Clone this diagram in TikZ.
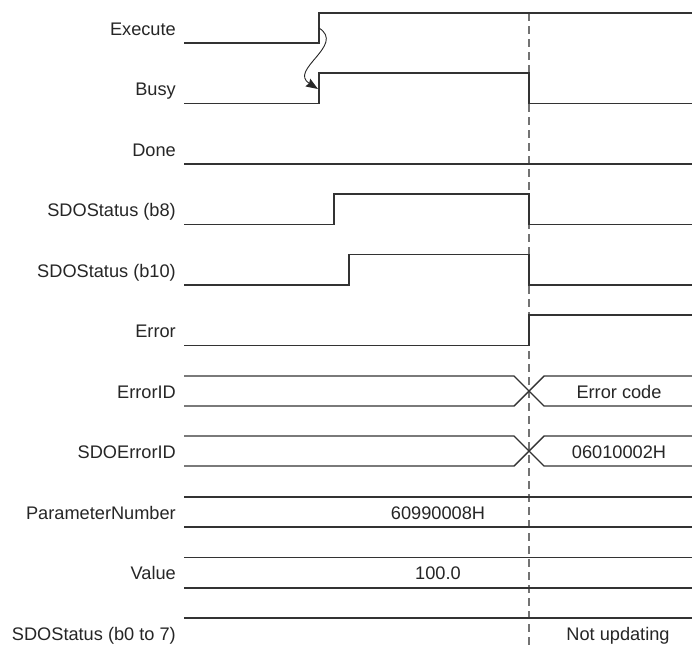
\documentclass[tikz,border=0pt]{standalone}
\usepackage{fontspec}
\setmainfont{Liberation Sans}
\usetikzlibrary{arrows.meta}
\begin{document}
\begin{tikzpicture}[x=1pt,y=-1pt,
  sig/.style={line width=1.4pt, draw=black!80, line join=miter},
  lbl/.style={anchor=base east, inner sep=0pt, font=\fontsize{18.2}{20}\selectfont, text=black!85},
  val/.style={anchor=base, inner sep=0pt, font=\fontsize{18.2}{20}\selectfont, text=black!85},
  guide/.style={draw=black!55, line width=1.1pt, dash pattern=on 8pt off 5pt},
  cause/.style={line width=0.9pt, draw=black!85, -{Stealth[length=12pt,width=9pt,inset=1.5pt]}}]
\useasboundingbox (0,0) rectangle (692,646);
\fill[white] (0,0) rectangle (692,646);

% dashed time marker
\coordinate (gtop) at (529,13);
\coordinate (gbot) at (529,646);
\draw[guide] (gtop) -- (gbot);

% labels
\node[lbl] (lExecute) at (176,35) {Execute};
\node[lbl] (lBusy) at (176,95.5) {Busy};
\node[lbl] (lDone) at (176,156) {Done};
\node[lbl] (lB8) at (176,216.5) {SDOStatus (b8)};
\node[lbl] (lB10) at (176,277) {SDOStatus (b10)};
\node[lbl] (lError) at (176,337.5) {Error};
\node[lbl] (lErrorID) at (176,398) {ErrorID};
\node[lbl] (lSDOErr) at (176,458) {SDOErrorID};
\node[lbl] (lParam) at (176,519) {ParameterNumber};
\node[lbl] (lValue) at (176,579.5) {Value};
\node[lbl] (lStat) at (176,640) {SDOStatus (b0 to 7)};

% bit signals
\draw[sig] (184,43) -- (319,43) -- (319,13) -- (692,13);
\draw[sig] (184,103.5) -- (319,103.5) -- (319,73) -- (529,73) -- (529,103.5) -- (692,103.5);
\draw[sig] (184,164) -- (692,164);
\draw[sig] (184,224.5) -- (334,224.5) -- (334,194) -- (529,194) -- (529,224.5) -- (692,224.5);
\draw[sig] (184,285) -- (349,285) -- (349,254.5) -- (529,254.5) -- (529,285) -- (692,285);
\draw[sig] (184,345.5) -- (529,345.5) -- (529,315) -- (692,315);

% buses with change
\draw[sig] (184,376) -- (514,376) -- (544,406) -- (692,406);
\draw[sig] (184,406) -- (514,406) -- (544,376) -- (692,376);
\draw[sig] (184,436) -- (514,436) -- (544,466) -- (692,466);
\draw[sig] (184,466) -- (514,466) -- (544,436) -- (692,436);
\draw[sig] (184,497) -- (692,497);
\draw[sig] (184,527) -- (692,527);
\draw[sig] (184,557.5) -- (692,557.5);
\draw[sig] (184,588) -- (692,588);
\draw[sig] (184,618) -- (692,618);

% values
\node[val] (vErr) at (619,398) {Error code};
\node[val] (vSDOErr) at (619,458) {06010002H};
\node[val] (vParam) at (438,519) {60990008H};
\node[val] (vValue) at (438,579.5) {100.0};
\node[val] (vStat) at (618,640) {Not updating};

% cause arrow Execute -> Busy
\coordinate (cStart) at (319,28);
\coordinate (cEnd) at (318,89);
\draw[cause] (cStart) .. controls (346,45) and (288,70) .. (cEnd);
\end{tikzpicture}
\end{document}
